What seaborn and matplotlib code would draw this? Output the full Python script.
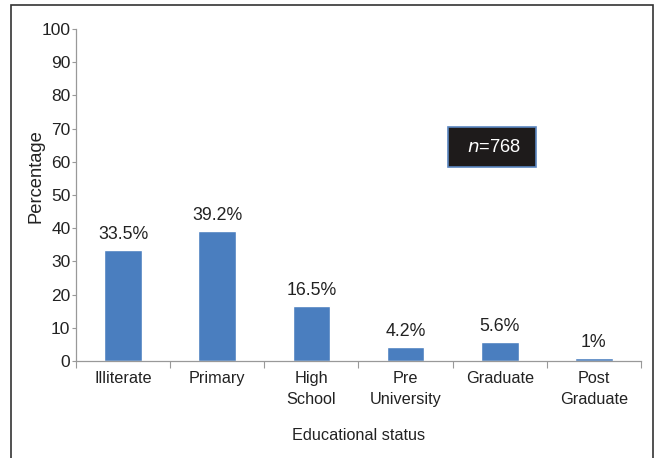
import matplotlib
matplotlib.use("Agg")
import matplotlib.pyplot as plt
import seaborn as sns
import pandas as pd
from matplotlib.patches import Rectangle

categories = ["Illiterate", "Primary", "High\nSchool", "Pre\nUniversity", "Graduate", "Post\nGraduate"]
values = [33.5, 39.2, 16.5, 4.2, 5.6, 1.0]
labels = ["33.5%", "39.2%", "16.5%", "4.2%", "5.6%", "1%"]
yticks = [0, 10, 20, 30, 40, 50, 60, 70, 80, 90, 100]

sns.set_theme(style="white")
plt.rcParams['font.family'] = ['Liberation Sans', 'DejaVu Sans']

df = pd.DataFrame({"cat": categories, "val": values})

fig = plt.figure(figsize=(6.57, 4.58), dpi=100)
W, H = 657, 458
ax = fig.add_axes([76 / W, 1 - 361 / H, (641 - 76) / W, (361 - 29) / H])

sns.barplot(data=df, x="cat", y="val", color="#4A7EBF", saturation=1, width=0.4, ax=ax)

ax.set_xlim(-0.5, len(categories) - 0.5)
ax.set_ylim(0, 100)
ax.set_yticks(yticks)
ax.set_yticklabels([str(t) for t in yticks], fontsize=12.5, color="#222222")
ax.set_xticks(range(len(categories)))
ax.set_xticklabels(categories, fontsize=11.7, color="#222222", linespacing=1.5)
ax.tick_params(axis="x", length=0, pad=7)
ax.tick_params(axis="y", length=3, width=0.8, color="#999999", pad=1, left=True)
ax.set_xticks([i - 0.5 for i in range(len(categories) + 1)], minor=True)
ax.tick_params(axis="x", which="minor", length=5, width=0.8, color="#999999", bottom=True, direction="out")

for s in ["top", "right"]:
    ax.spines[s].set_visible(False)
for s in ["left", "bottom"]:
    ax.spines[s].set_color("#999999")
    ax.spines[s].set_linewidth(0.9)

ax.set_xlabel("Educational status", fontsize=11.7, color="#222222", labelpad=15)
ax.set_ylabel("Percentage", fontsize=13.2, color="#222222")
ax.yaxis.set_label_coords(-0.055, 0.557)

for i, (v, lab) in enumerate(zip(values, labels)):
    ax.annotate(lab, (i, v), xytext=(0, 5), textcoords="offset points",
                ha="center", va="bottom", fontsize=12.8, color="#222222")

# n annotation box
bx0, bx1, by0, by1 = 3.45, 4.385, 58.4, 70.5
ax.add_patch(Rectangle((bx0, by0), bx1 - bx0, by1 - by0, facecolor="#1e1b1b",
                       edgecolor="#5b86c0", linewidth=1.2, zorder=3))
ax.text((bx0 + bx1) / 2 + 0.02, (by0 + by1) / 2, r"$\it{n}$=768", ha="center", va="center",
        fontsize=13.2, color="white", zorder=4)

fig.patches.append(Rectangle((11 / W, -0.05), (653 - 11) / W, 1.05 - 5 / H,
                             transform=fig.transFigure, fill=False, edgecolor="#333333",
                             linewidth=1.2))

fig.savefig("out.png", dpi=100)
